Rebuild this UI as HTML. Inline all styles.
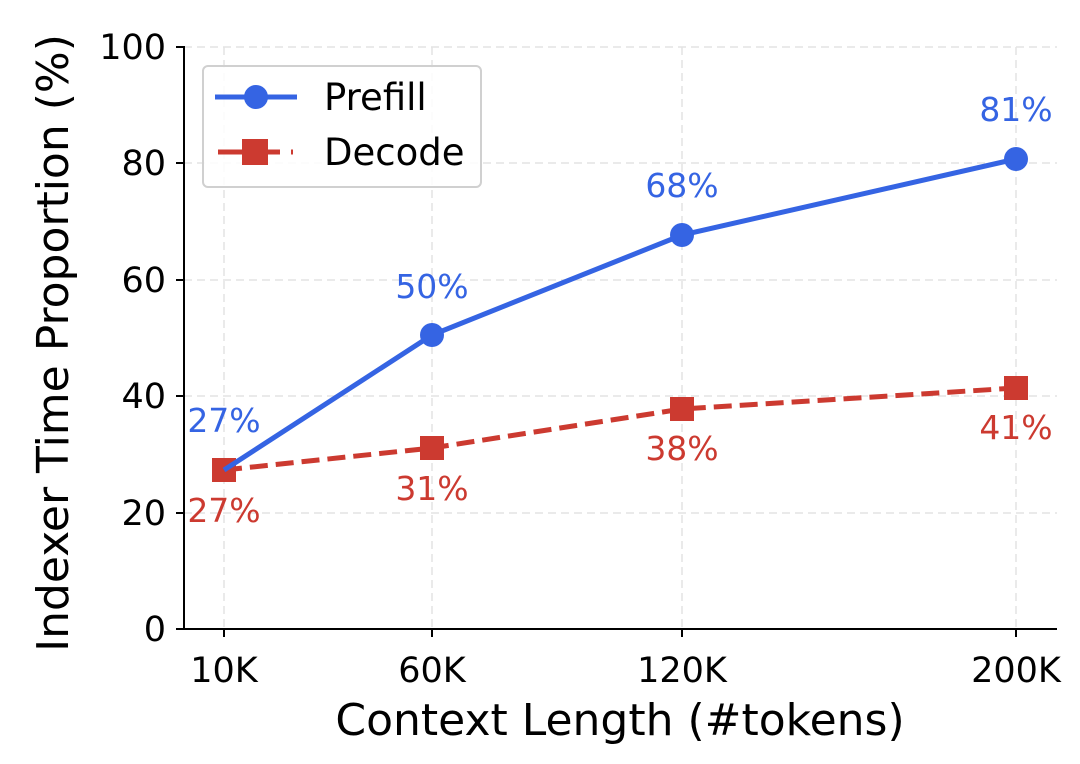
<!DOCTYPE html>
<html><head><meta charset="utf-8"><style>html,body{margin:0;padding:0;background:#fff}</style></head><body>
<svg width="1080" height="759" xmlns="http://www.w3.org/2000/svg" font-family="DejaVu Sans, Liberation Sans, sans-serif">
<rect width="1080" height="759" fill="#fff"/>
<g stroke="#e3e3e3" stroke-width="1.5" stroke-dasharray="8,5">
<line x1="184" x2="1057" y1="513" y2="513"/><line x1="184" x2="1057" y1="396" y2="396"/>
<line x1="184" x2="1057" y1="280" y2="280"/><line x1="184" x2="1057" y1="163" y2="163"/>
<line x1="184" x2="1057" y1="47" y2="47"/>
<line x1="224" x2="224" y1="47" y2="629"/><line x1="432" x2="432" y1="47" y2="629"/>
<line x1="682" x2="682" y1="47" y2="629"/><line x1="1016" x2="1016" y1="47" y2="629"/>
</g>
<g stroke="#000" stroke-width="2" fill="none">
<line x1="184" y1="46" x2="184" y2="630"/><line x1="183" y1="629" x2="1057" y2="629"/>
<line x1="176" x2="184" y1="629" y2="629"/><line x1="176" x2="184" y1="513" y2="513"/>
<line x1="176" x2="184" y1="396" y2="396"/><line x1="176" x2="184" y1="280" y2="280"/>
<line x1="176" x2="184" y1="163" y2="163"/><line x1="176" x2="184" y1="47" y2="47"/>
<line x1="224" x2="224" y1="629" y2="637"/><line x1="432" x2="432" y1="629" y2="637"/>
<line x1="682" x2="682" y1="629" y2="637"/><line x1="1016" x2="1016" y1="629" y2="637"/>
</g>
<g font-size="35" fill="#000" text-anchor="end">
<text x="166" y="641">0</text><text x="166" y="525">20</text><text x="166" y="408">40</text>
<text x="166" y="292">60</text><text x="166" y="175">80</text><text x="166" y="59">100</text>
</g>
<g font-size="35" fill="#000" text-anchor="middle">
<text x="224" y="682">10K</text><text x="432" y="682">60K</text><text x="682" y="682">120K</text><text x="1016" y="682">200K</text>
</g>
<text x="620" y="735" font-size="44" text-anchor="middle">Context Length (#tokens)</text>
<text transform="translate(68,343) rotate(-90)" font-size="44" text-anchor="middle">Indexer Time Proportion (%)</text>
<polyline points="224,470 432,448 682,409 1016,388" fill="none" stroke="#cc3a30" stroke-width="5" stroke-dasharray="18,8"/>
<g fill="#cc3a30"><rect x="212" y="458" width="24" height="24"/><rect x="420" y="436" width="24" height="24"/><rect x="670" y="397" width="24" height="24"/><rect x="1004" y="376" width="24" height="24"/></g>
<polyline points="224,470 432,335 682,235 1016,159" fill="none" stroke="#3564e3" stroke-width="5"/>
<g fill="#3564e3"><circle cx="432" cy="335" r="12"/><circle cx="682" cy="235" r="12"/><circle cx="1016" cy="159" r="12"/></g>
<g font-size="33" text-anchor="middle" fill="#3564e3">
<text x="224" y="432">27%</text><text x="432" y="298">50%</text><text x="682" y="197">68%</text><text x="1016" y="121">81%</text>
</g>
<g font-size="33" text-anchor="middle" fill="#cc3a30">
<text x="224" y="522">27%</text><text x="432" y="500">31%</text><text x="682" y="460">38%</text><text x="1016" y="439">41%</text>
</g>
<rect x="203" y="66" width="278" height="121" rx="5" fill="#fff" fill-opacity="0.85" stroke="#d0d0d0" stroke-width="2"/>
<line x1="215" x2="297" y1="97" y2="97" stroke="#3564e3" stroke-width="5"/>
<circle cx="256" cy="97" r="12" fill="#3564e3"/>
<line x1="218" x2="280" y1="152" y2="152" stroke="#cc3a30" stroke-width="5"/>
<line x1="291" x2="293" y1="152" y2="152" stroke="#cc3a30" stroke-width="5"/>
<rect x="242" y="139" width="26" height="26" fill="#cc3a30"/>
<text x="324" y="110" font-size="37">Prefill</text>
<text x="324" y="165" font-size="37">Decode</text>
</svg>
</body></html>
